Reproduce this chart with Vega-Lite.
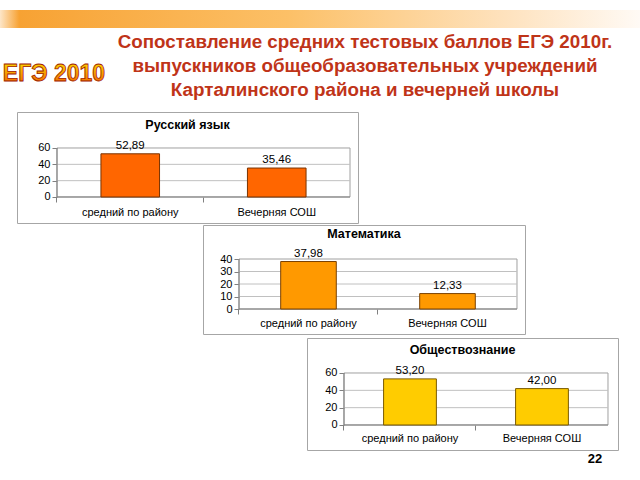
{
  "$schema": "https://vega.github.io/schema/vega-lite/v6.json",
  "padding": 0,
  "background": "white",
  "spacing": 0,
  "config": {
    "view": {"stroke": null},
    "font": "Liberation Sans",
    "locale": {"number": {"decimal": ",", "thousands": " ", "grouping": [3], "currency": ["", " ₽"]}},
    "title": {"font": "Liberation Sans", "fontSize": 12.5, "fontWeight": "bold", "color": "#000000"},
    "axis": {"labelFont": "Liberation Sans", "labelFontSize": 11, "labelColor": "#000000", "domain": false, "grid": false, "tickColor": "#808080", "title": null}
  },
  "datasets": {
    "scores": [
      {"subject": "Русский язык", "group": "средний по району", "score": 52.89},
      {"subject": "Русский язык", "group": "Вечерняя СОШ", "score": 35.46},
      {"subject": "Математика", "group": "средний по району", "score": 37.98},
      {"subject": "Математика", "group": "Вечерняя СОШ", "score": 12.33},
      {"subject": "Обществознание", "group": "средний по району", "score": 53.2},
      {"subject": "Обществознание", "group": "Вечерняя СОШ", "score": 42.0}
    ],
    "heading": [
      {"logo": "ЕГЭ 2010", "title": ["Сопоставление средних тестовых баллов ЕГЭ 2010г.", "выпускников общеобразовательных учреждений", "Карталинского района и вечерней школы"], "page": "22"}
    ],
    "plotArea": [{"part": "plot area"}]
  },
  "vconcat": [
    {"width": 10, "height": 10, "data": {"values": []}, "mark": "point", "encoding": {}},
    {
      "width": 640, "height": 18,
      "data": {"name": "heading"},
      "mark": {"type": "rect", "color": {"gradient": "linear", "x1": 0, "y1": 0, "x2": 1, "y2": 0, "stops": [
        {"offset": 0, "color": "#FDE6C8"},
        {"offset": 0.03, "color": "#F7A233"},
        {"offset": 0.45, "color": "#FCC067"},
        {"offset": 0.8, "color": "#FEE3C0"},
        {"offset": 1, "color": "#FFFAF5"}
      ]}},
      "encoding": {}
    },
    {
      "spacing": 0,
      "hconcat": [
        {
          "width": 110, "height": 83,
          "data": {"name": "heading"},
          "mark": {"type": "text", "font": "Liberation Sans", "fontWeight": "bold", "fontSize": 23, "dx": -1, "dy": 4, "baseline": "middle", "align": "center",
            "stroke": "#A02000", "strokeWidth": 0.8,
            "color": {"gradient": "linear", "x1": 0, "y1": 0, "x2": 0, "y2": 1, "stops": [{"offset": 0, "color": "#FFE600"}, {"offset": 1, "color": "#F06000"}]}},
          "encoding": {"text": {"field": "logo", "type": "nominal"}}
        },
        {
          "width": 530, "height": 83,
          "data": {"name": "heading"},
          "mark": {"type": "text", "font": "Liberation Sans", "fontWeight": "bold", "fontSize": 18.8, "lineHeight": 24, "color": "#BF3418", "baseline": "middle", "align": "center", "dx": -10, "dy": -27.5},
          "encoding": {"text": {"field": "title", "type": "nominal"}}
        }
      ]
    },
    {
      "spacing": 0,
      "hconcat": [
        {"width": 16, "height": 1, "data": {"values": []}, "mark": "point", "encoding": {}},
        {
          "width": 341, "height": 111,
          "view": {"stroke": "#a6a6a6"},
          "title": {"text": "Русский язык", "offset": -19},
          "resolve": {"scale": {"x": "independent"}, "axis": {"x": "independent", "y": "independent"}},
          "layer": [
            {
              "data": {"name": "plotArea"},
              "mark": {"type": "rect", "fill": null, "stroke": "#a0a0a0", "strokeWidth": 1},
              "encoding": {
                "x": {"datum": -0.5, "type": "quantitative", "scale": {"domain": [-0.773, 1.5546], "nice": false, "zero": false}, "axis": null},
                "x2": {"datum": 1.5},
                "y": {"datum": 0, "type": "quantitative", "scale": {"domain": [-31.84, 104.08], "nice": false, "zero": false}, "axis": null},
                "y2": {"datum": 60}
              }
            },
            {
              "data": {"values": [{"v": 20}, {"v": 40}]},
              "mark": {"type": "rule", "color": "#c0c0c0", "strokeWidth": 1},
              "encoding": {
                "x": {"datum": -0.5, "type": "quantitative", "scale": {"domain": [-0.773, 1.5546], "nice": false, "zero": false}, "axis": null},
                "x2": {"datum": 1.5},
                "y": {"field": "v", "type": "quantitative", "scale": {"domain": [-31.84, 104.08], "nice": false, "zero": false}, "axis": null}
              }
            },
            {
              "data": {"name": "plotArea"},
              "mark": {"type": "rule", "color": "#808080", "strokeWidth": 1},
              "encoding": {
                "x": {"datum": -0.5, "type": "quantitative", "scale": {"domain": [-0.773, 1.5546], "nice": false, "zero": false}, "axis": null},
                "y": {"datum": 0, "type": "quantitative", "scale": {"domain": [-31.84, 104.08], "nice": false, "zero": false}, "axis": null},
                "y2": {"datum": 60}
              }
            },
            {
              "data": {"name": "plotArea"},
              "mark": {"type": "rule", "color": "#808080", "strokeWidth": 1},
              "encoding": {
                "x": {"datum": -0.5, "type": "quantitative", "scale": {"domain": [-0.773, 1.5546], "nice": false, "zero": false}, "axis": null},
                "x2": {"datum": 1.5},
                "y": {"datum": 0, "type": "quantitative", "scale": {"domain": [-31.84, 104.08], "nice": false, "zero": false}, "axis": null}
              }
            },
            {
              "data": {"name": "scores"},
              "transform": [{"filter": "datum.subject === 'Русский язык'"}],
              "encoding": {
                "x": {"field": "group", "type": "nominal", "sort": null, "scale": {"paddingInner": 0, "paddingOuter": 0.1638, "align": 0.8333},
                  "axis": {"labelAngle": 0, "bandPosition": 0, "offset": -26, "tickSize": 5, "labelPadding": 4}},
                "y": {"field": "score", "type": "quantitative", "scale": {"domain": [-31.84, 104.08], "nice": false, "zero": false},
                  "axis": {"values": [0, 20, 40, 60], "offset": -40, "tickSize": 5, "labelPadding": 2}}
              },
              "layer": [
                {"mark": {"type": "bar", "width": {"band": 0.4}, "color": "#FF6600", "stroke": "#7A3300", "strokeWidth": 1}},
                {"mark": {"type": "text", "baseline": "bottom", "dy": -3, "fontSize": 11.5, "color": "#000000"},
                 "encoding": {"text": {"field": "score", "type": "quantitative", "format": ".2f"}}}
              ]
            }
          ]
        }
      ]
    },
    {
      "spacing": 0,
      "hconcat": [
        {"width": 202, "height": 1, "data": {"values": []}, "mark": "point", "encoding": {}},
        {
          "width": 322, "height": 109,
          "view": {"stroke": "#a6a6a6"},
          "title": {"text": "Математика", "offset": -15},
          "resolve": {"scale": {"x": "independent"}, "axis": {"x": "independent", "y": "independent"}},
          "layer": [
            {
              "data": {"name": "plotArea"},
              "mark": {"type": "rect", "fill": null, "stroke": "#a0a0a0", "strokeWidth": 1},
              "encoding": {
                "x": {"datum": -0.5, "type": "quantitative", "scale": {"domain": [-0.759, 1.5576], "nice": false, "zero": false}, "axis": null},
                "x2": {"datum": 1.5},
                "y": {"datum": 0, "type": "quantitative", "scale": {"domain": [-20, 67.2], "nice": false, "zero": false}, "axis": null},
                "y2": {"datum": 40}
              }
            },
            {
              "data": {"values": [{"v": 10}, {"v": 20}, {"v": 30}]},
              "mark": {"type": "rule", "color": "#c0c0c0", "strokeWidth": 1},
              "encoding": {
                "x": {"datum": -0.5, "type": "quantitative", "scale": {"domain": [-0.759, 1.5576], "nice": false, "zero": false}, "axis": null},
                "x2": {"datum": 1.5},
                "y": {"field": "v", "type": "quantitative", "scale": {"domain": [-20, 67.2], "nice": false, "zero": false}, "axis": null}
              }
            },
            {
              "data": {"name": "plotArea"},
              "mark": {"type": "rule", "color": "#808080", "strokeWidth": 1},
              "encoding": {
                "x": {"datum": -0.5, "type": "quantitative", "scale": {"domain": [-0.759, 1.5576], "nice": false, "zero": false}, "axis": null},
                "y": {"datum": 0, "type": "quantitative", "scale": {"domain": [-20, 67.2], "nice": false, "zero": false}, "axis": null},
                "y2": {"datum": 40}
              }
            },
            {
              "data": {"name": "plotArea"},
              "mark": {"type": "rule", "color": "#808080", "strokeWidth": 1},
              "encoding": {
                "x": {"datum": -0.5, "type": "quantitative", "scale": {"domain": [-0.759, 1.5576], "nice": false, "zero": false}, "axis": null},
                "x2": {"datum": 1.5},
                "y": {"datum": 0, "type": "quantitative", "scale": {"domain": [-20, 67.2], "nice": false, "zero": false}, "axis": null}
              }
            },
            {
              "data": {"name": "scores"},
              "transform": [{"filter": "datum.subject === 'Математика'"}],
              "encoding": {
                "x": {"field": "group", "type": "nominal", "sort": null, "scale": {"paddingInner": 0, "paddingOuter": 0.1583, "align": 0.818},
                  "axis": {"labelAngle": 0, "bandPosition": 0, "offset": -25, "tickSize": 5, "labelPadding": 3}},
                "y": {"field": "score", "type": "quantitative", "scale": {"domain": [-20, 67.2], "nice": false, "zero": false},
                  "axis": {"values": [0, 10, 20, 30, 40], "offset": -36, "tickSize": 5, "labelPadding": 2}}
              },
              "layer": [
                {"mark": {"type": "bar", "width": {"band": 0.4}, "color": "#FF9900", "stroke": "#7A4000", "strokeWidth": 1}},
                {"mark": {"type": "text", "baseline": "bottom", "dy": -3, "fontSize": 11.5, "color": "#000000"},
                 "encoding": {"text": {"field": "score", "type": "quantitative", "format": ".2f"}}}
              ]
            }
          ]
        }
      ]
    },
    {"width": 10, "height": 2, "data": {"values": []}, "mark": "point", "encoding": {}},
    {
      "spacing": 0,
      "hconcat": [
        {"width": 306, "height": 1, "data": {"values": []}, "mark": "point", "encoding": {}},
        {
          "width": 311, "height": 112,
          "view": {"stroke": "#a6a6a6"},
          "title": {"text": "Обществознание", "offset": -18},
          "resolve": {"scale": {"x": "independent"}, "axis": {"x": "independent", "y": "independent"}},
          "layer": [
            {
              "data": {"name": "plotArea"},
              "mark": {"type": "rect", "fill": null, "stroke": "#a0a0a0", "strokeWidth": 1},
              "encoding": {
                "x": {"datum": -0.5, "type": "quantitative", "scale": {"domain": [-0.7803, 1.5758], "nice": false, "zero": false}, "axis": null},
                "x2": {"datum": 1.5},
                "y": {"datum": 0, "type": "quantitative", "scale": {"domain": [-28.85, 100.38], "nice": false, "zero": false}, "axis": null},
                "y2": {"datum": 60}
              }
            },
            {
              "data": {"values": [{"v": 20}, {"v": 40}]},
              "mark": {"type": "rule", "color": "#c0c0c0", "strokeWidth": 1},
              "encoding": {
                "x": {"datum": -0.5, "type": "quantitative", "scale": {"domain": [-0.7803, 1.5758], "nice": false, "zero": false}, "axis": null},
                "x2": {"datum": 1.5},
                "y": {"field": "v", "type": "quantitative", "scale": {"domain": [-28.85, 100.38], "nice": false, "zero": false}, "axis": null}
              }
            },
            {
              "data": {"name": "plotArea"},
              "mark": {"type": "rule", "color": "#808080", "strokeWidth": 1},
              "encoding": {
                "x": {"datum": -0.5, "type": "quantitative", "scale": {"domain": [-0.7803, 1.5758], "nice": false, "zero": false}, "axis": null},
                "y": {"datum": 0, "type": "quantitative", "scale": {"domain": [-28.85, 100.38], "nice": false, "zero": false}, "axis": null},
                "y2": {"datum": 60}
              }
            },
            {
              "data": {"name": "plotArea"},
              "mark": {"type": "rule", "color": "#808080", "strokeWidth": 1},
              "encoding": {
                "x": {"datum": -0.5, "type": "quantitative", "scale": {"domain": [-0.7803, 1.5758], "nice": false, "zero": false}, "axis": null},
                "x2": {"datum": 1.5},
                "y": {"datum": 0, "type": "quantitative", "scale": {"domain": [-28.85, 100.38], "nice": false, "zero": false}, "axis": null}
              }
            },
            {
              "data": {"name": "scores"},
              "transform": [{"filter": "datum.subject === 'Обществознание'"}],
              "encoding": {
                "x": {"field": "group", "type": "nominal", "sort": null, "scale": {"paddingInner": 0, "paddingOuter": 0.178, "align": 0.787},
                  "axis": {"labelAngle": 0, "bandPosition": 0, "offset": -25, "tickSize": 5, "labelPadding": 2}},
                "y": {"field": "score", "type": "quantitative", "scale": {"domain": [-28.85, 100.38], "nice": false, "zero": false},
                  "axis": {"values": [0, 20, 40, 60], "offset": -37, "tickSize": 5, "labelPadding": 2}}
              },
              "layer": [
                {"mark": {"type": "bar", "width": {"band": 0.4}, "color": "#FFCC00", "stroke": "#7A5A00", "strokeWidth": 1}},
                {"mark": {"type": "text", "baseline": "bottom", "dy": -3, "fontSize": 11.5, "color": "#000000"},
                 "encoding": {"text": {"field": "score", "type": "quantitative", "format": ".2f"}}}
              ]
            }
          ]
        }
      ]
    },
    {
      "spacing": 0,
      "hconcat": [
        {"width": 580, "height": 1, "data": {"values": []}, "mark": "point", "encoding": {}},
        {
          "width": 30, "height": 16,
          "data": {"name": "heading"},
          "mark": {"type": "text", "font": "Liberation Sans", "fontWeight": "bold", "fontSize": 13, "color": "#000000", "baseline": "middle", "align": "center"},
          "encoding": {"text": {"field": "page", "type": "nominal"}}
        }
      ]
    }
  ]
}
